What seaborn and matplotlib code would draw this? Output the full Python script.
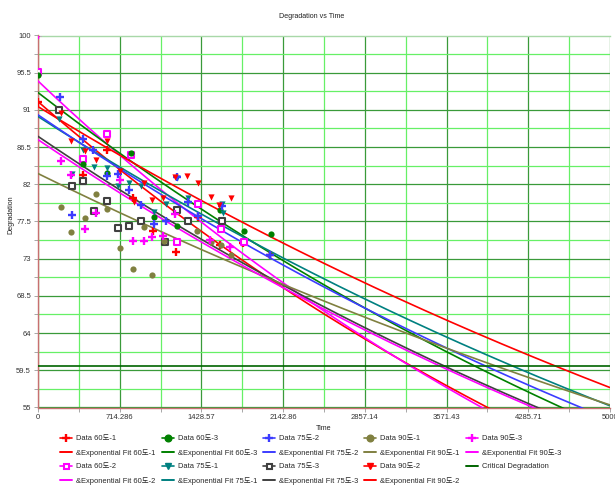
import numpy as np
import pandas as pd
import matplotlib
matplotlib.use("Agg")
import matplotlib.pyplot as plt
import seaborn as sns
from matplotlib.lines import Line2D
from matplotlib.ticker import FixedLocator

sns.set_theme(style="white")
plt.rcParams["font.family"] = ["Liberation Sans", "Noto Sans CJK KR", "DejaVu Sans"]

# ---------------- data ----------------
series_names = ["60도-1", "60도-2", "60도-3", "75도-1", "75도-2", "75도-3",
                "90도-1", "90도-2", "90도-3"]

t_60_1 = [0, 394, 604, 830, 1007, 1205, 1401, 1590, 1795, 2030]
v_60_1 = [91.9, 83.1, 86.1, 80.3, 76.4, 73.8, 78.1, 74.6, 74.9, 73.4]

t_60_2 = [0, 394, 604, 817, 1211, 1401, 1596, 1797]
v_60_2 = [95.6, 85.0, 88.1, 85.5, 75.0, 79.6, 76.6, 75.0]

t_60_3 = [0, 394, 604, 817, 1010, 1211, 1593, 1797, 2034]
v_60_3 = [95.2, 84.5, 83.4, 85.8, 78.0, 76.9, 78.9, 76.4, 76.0]

t_75_1 = [184, 300, 394, 487, 604, 700, 797, 899, 1016, 1118, 1211, 1313, 1605, 1614]
v_75_1 = [89.9, 83.2, 86.2, 84.1, 84.0, 81.8, 82.1, 81.8, 78.7, 79.6, 82.8, 80.4, 79.6, 78.5]

t_75_2 = [190, 298, 394, 481, 604, 700, 797, 899, 1016, 1118, 1211, 1313, 1401, 1605, 2028]
v_75_2 = [92.5, 78.3, 87.5, 86.2, 83.0, 83.3, 81.3, 79.5, 77.2, 77.5, 82.9, 79.9, 78.2, 79.4, 73.5]

t_75_3 = [184, 298, 394, 487, 604, 700, 797, 896, 1112, 1211, 1313, 1605]
v_75_3 = [91.0, 81.8, 82.4, 78.8, 80.0, 76.7, 77.0, 77.5, 75.0, 78.9, 77.6, 77.5]

t_90_1 = [204, 292, 414, 511, 604, 715, 832, 925, 993, 1100, 1386, 1509, 1596, 1684]
v_90_1 = [79.2, 76.2, 77.9, 80.8, 79.0, 74.3, 71.7, 76.8, 71.0, 75.2, 76.3, 75.0, 74.7, 73.4]

t_90_2 = [0, 204, 292, 414, 511, 604, 715, 840, 928, 993, 1094, 1197, 1299, 1401, 1509, 1580, 1684]
v_90_2 = [100.0, 90.6, 87.2, 86.0, 84.9, 87.2, 83.6, 79.9, 82.1, 80.1, 80.3, 82.9, 83.0, 82.1, 80.5, 79.5, 80.3]

t_90_3 = [0, 204, 292, 414, 511, 720, 832, 925, 993, 1094, 1196, 1506, 1681]
v_90_3 = [100.0, 84.8, 83.1, 76.6, 78.5, 82.5, 75.2, 75.2, 75.6, 75.7, 78.4, 75.3, 74.4]

# exponential fits  y = a * exp(-b * t)
fit_a = [92.0, 94.5, 93.1, 90.2, 90.4, 87.8, 83.3, 91.4, 87.4]
fit_b = [1.309e-4, 1.395e-4, 1.15e-4, 0.982e-4, 1.047e-4, 1.071e-4, 0.819e-4, 0.930e-4, 1.07e-4]

critical_level = 60.0

x_ticks = [0, 714.286, 1428.57, 2142.86, 2857.14, 3571.43, 4285.71, 5000]
x_tick_labels = ["0", "714.286", "1428.57", "2142.86", "2857.14", "3571.43", "4285.71", "5000"]
y_ticks = [55, 59.5, 64, 68.5, 73, 77.5, 82, 86.5, 91, 95.5, 100]
y_tick_labels = ["55", "59.5", "64", "68.5", "73", "77.5", "82", "86.5", "91", "95.5", "100"]

data_t = [t_60_1, t_60_2, t_60_3, t_75_1, t_75_2, t_75_3, t_90_1, t_90_2, t_90_3]
data_v = [v_60_1, v_60_2, v_60_3, v_75_1, v_75_2, v_75_3, v_90_1, v_90_2, v_90_3]

# ---------------- styles ----------------
colors = ["#ff0000", "#ff00ff", "#008000", "#008080", "#3c3cff", "#404040",
          "#808040", "#ff0000", "#ff00ff"]
markers = ["+", "s", "o", "v", "+", "s", "o", "v", "+"]
hollow = [False, True, False, False, False, True, False, False, False]

fig = plt.figure(figsize=(6.15, 4.93), dpi=100)
ax = fig.add_axes([38 / 615, 1 - 407.5 / 493, 572 / 615, 372 / 493])
ax.set_facecolor("white")

tgrid = np.linspace(0, 5000, 400)

# fit lines
for name, a, b, c in zip(series_names, fit_a, fit_b, colors):
    fdf = pd.DataFrame({"t": tgrid, "v": a * np.exp(-b * tgrid)})
    sns.lineplot(data=fdf, x="t", y="v", ax=ax, color=c, linewidth=1.2,
                 legend=False, zorder=3)

# critical degradation
cdf = pd.DataFrame({"t": [0, 5000], "v": [critical_level, critical_level]})
sns.lineplot(data=cdf, x="t", y="v", ax=ax, color="#006400", linewidth=1.2,
             legend=False, zorder=3)

# data points
for name, ts, vs, c, m, h in zip(series_names, data_t, data_v, colors, markers, hollow):
    ddf = pd.DataFrame({"t": ts, "v": vs})
    if m == "+":
        sns.scatterplot(data=ddf, x="t", y="v", ax=ax, marker="+", color=c,
                        s=32, linewidth=1.7, legend=False, zorder=4)
    elif h:
        sns.scatterplot(data=ddf, x="t", y="v", ax=ax, marker="s", facecolor="white",
                        edgecolor=c, s=14, linewidth=1.5, legend=False, zorder=4)
    else:
        sns.scatterplot(data=ddf, x="t", y="v", ax=ax, marker=m, color=c,
                        s=20, linewidth=0, legend=False, zorder=4)

ax.set_xlim(0, 5000)
ax.set_ylim(55, 100)
ax.set_xticks(x_ticks)
ax.set_xticklabels(x_tick_labels)
ax.set_yticks(y_ticks)
ax.set_yticklabels(y_tick_labels)
ax.xaxis.set_minor_locator(FixedLocator([(x_ticks[i] + x_ticks[i + 1]) / 2 for i in range(len(x_ticks) - 1)]))
ax.yaxis.set_minor_locator(FixedLocator([(y_ticks[i] + y_ticks[i + 1]) / 2 for i in range(len(y_ticks) - 1)]))
ax.grid(which="major", color="#3a9a3a", linewidth=0.9, zorder=1)
ax.grid(which="minor", color="#66f066", linewidth=0.9, zorder=1)
ax.set_axisbelow(True)
ax.tick_params(which="both", direction="out", length=3, width=0.6, color="#999999",
               labelsize=5.5, labelcolor="#333333", pad=2)
ax.tick_params(which="major", bottom=True, left=True)
ax.tick_params(which="minor", bottom=True, left=True)
ax.set_xlabel("")
ax.set_ylabel("")

for sp in ["left", "bottom"]:
    ax.spines[sp].set_color("#c87070")
    ax.spines[sp].set_linewidth(1.0)
ax.spines["top"].set_color("#a8d8a8")
ax.spines["top"].set_linewidth(1.0)
ax.spines["right"].set_visible(False)

fig.text(312 / 615, 1 - 16 / 493, "Degradation vs Time", ha="center", va="center",
         fontsize=5.1, color="#222222")
fig.text(324 / 615, 1 - 428 / 493, "Time", ha="center", va="center",
         fontsize=5.1, color="#222222")
fig.text(11 / 615, 1 - 215 / 493, "Degradation", ha="center", va="center",
         rotation=90, fontsize=5.1, color="#222222")

# legend
handles, labels = [], []
for name, c, m, h in zip(series_names, colors, markers, hollow):
    if m == "+":
        hd = Line2D([], [], color=c, marker="+", markersize=6, markeredgewidth=1.7, linewidth=1.2)
    elif h:
        hd = Line2D([], [], color=c, marker="s", markersize=3.6, markerfacecolor="white",
                    markeredgecolor=c, markeredgewidth=1.5, linewidth=1.2)
    else:
        hd = Line2D([], [], color=c, marker=m, markersize=4.8, linewidth=1.2)
    handles.append(hd)
    labels.append("Data " + name)
    handles.append(Line2D([], [], color=c, linewidth=1.4))
    labels.append("&Exponential Fit " + name)
handles.append(Line2D([], [], color="#006400", linewidth=1.4))
labels.append("Critical Degradation")

fig.legend(handles, labels, ncol=5, loc="upper left",
           bbox_to_anchor=(60 / 615, 1 - 435 / 493), frameon=False,
           fontsize=5.4, handlelength=1.6, handletextpad=0.55,
           columnspacing=0.8, labelspacing=0.88, borderpad=0, borderaxespad=0)

fig.savefig("out.png", dpi=100, facecolor="white")
